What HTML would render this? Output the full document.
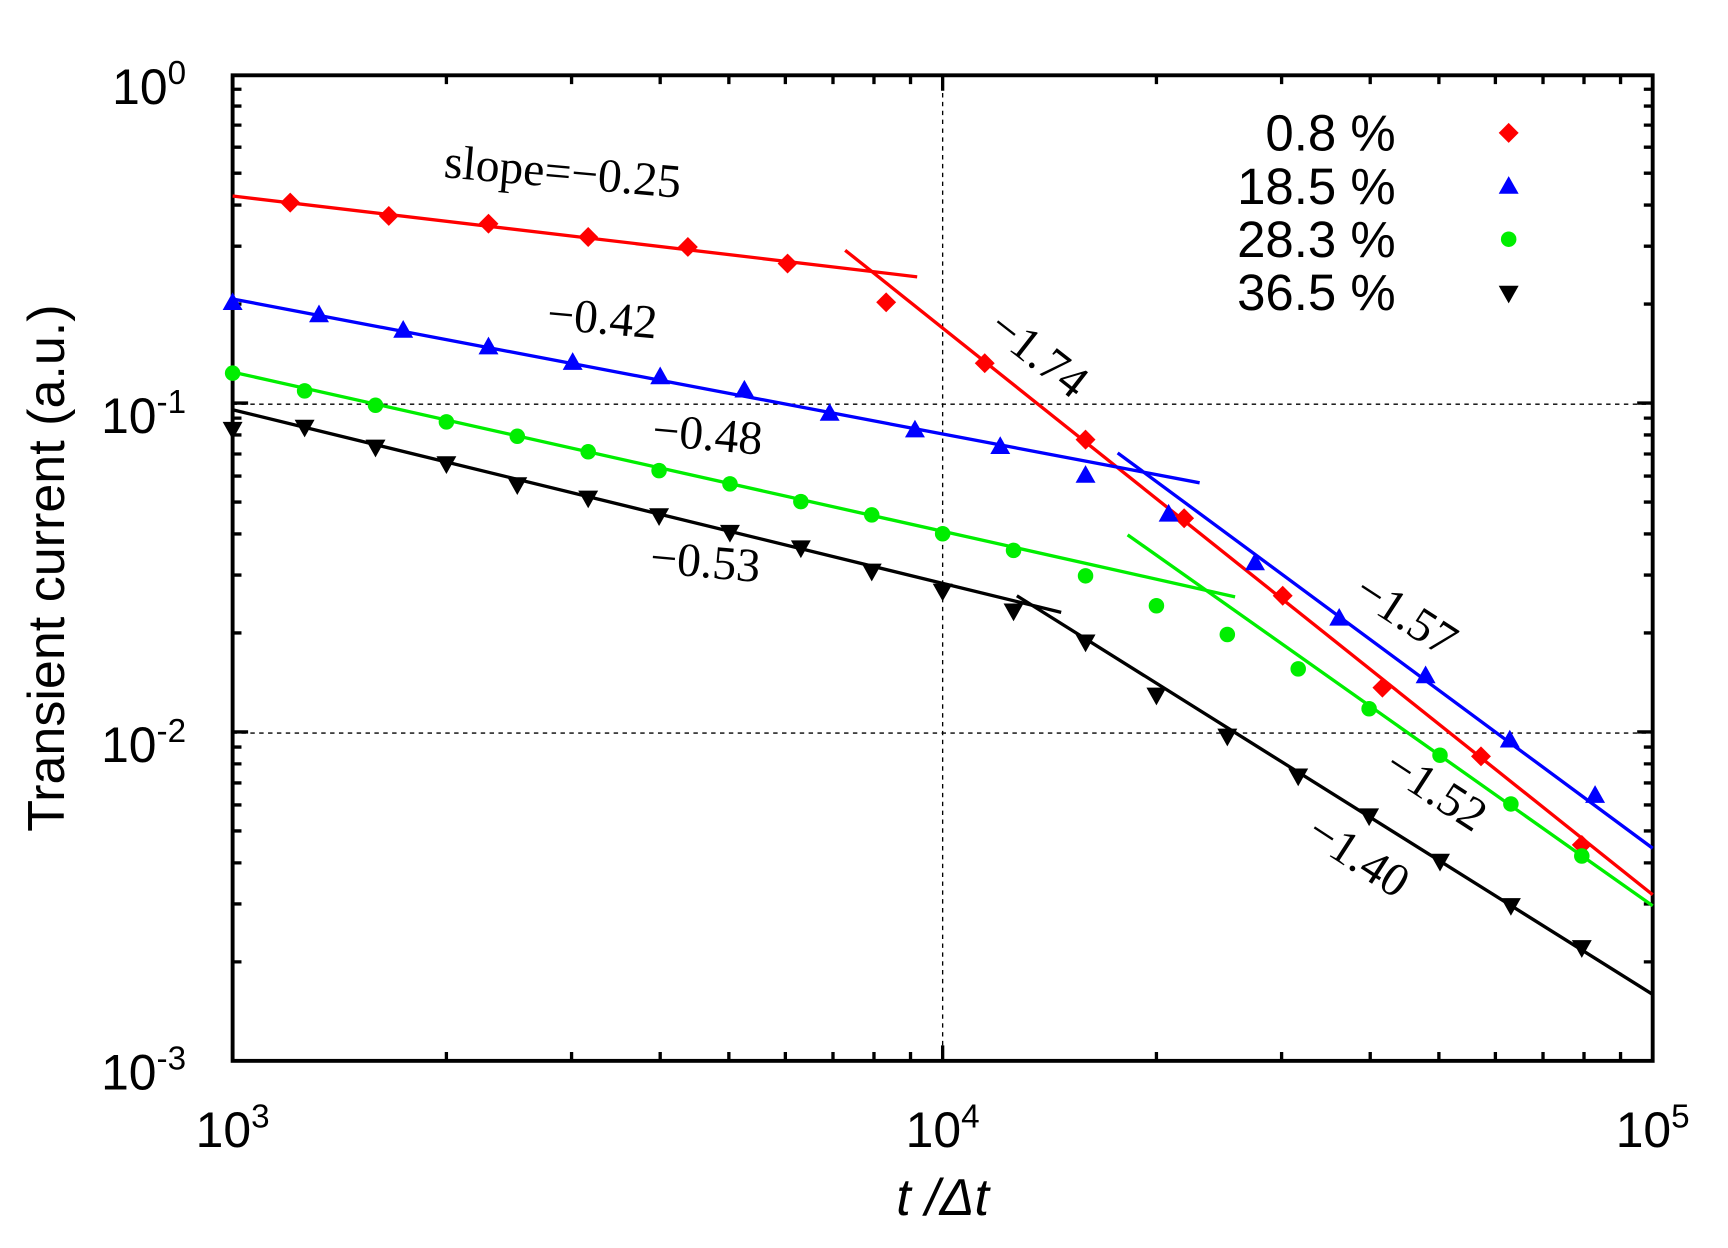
<!DOCTYPE html>
<html><head><meta charset="utf-8"><style>html,body{margin:0;padding:0;background:#fff}svg{display:block}</style></head>
<body>
<svg id="s" width="1728" height="1248" viewBox="0 0 1560 1127" preserveAspectRatio="none" xmlns="http://www.w3.org/2000/svg">
<rect width="1560" height="1127" fill="#fff"/>
<g stroke="#000" stroke-width="1.2" stroke-dasharray="4,4">
<line x1="851" y1="68" x2="851" y2="958"/>
<line x1="210" y1="365" x2="1492" y2="365"/>
<line x1="210" y1="662" x2="1492" y2="662"/>
</g>
<path id="ticks" stroke="#000" stroke-width="3" fill="none"/>
<rect x="210" y="68" width="1282" height="890" fill="none" stroke="#000" stroke-width="3.5"/>
<g font-family="Liberation Sans, sans-serif" font-size="45" fill="#000">
<text x="168" y="94" text-anchor="end">10<tspan dy="-18" font-size="30">0</tspan></text>
<text x="168" y="391" text-anchor="end">10<tspan dy="-18" font-size="30">-1</tspan></text>
<text x="168" y="688" text-anchor="end">10<tspan dy="-18" font-size="30">-2</tspan></text>
<text x="168" y="984" text-anchor="end">10<tspan dy="-18" font-size="30">-3</tspan></text>
<text x="210" y="1036" text-anchor="middle">10<tspan dy="-18" font-size="30">3</tspan></text>
<text x="851" y="1036" text-anchor="middle">10<tspan dy="-18" font-size="30">4</tspan></text>
<text x="1492" y="1036" text-anchor="middle">10<tspan dy="-18" font-size="30">5</tspan></text>
<text transform="translate(58,513) rotate(-90)" text-anchor="middle" font-size="47">Transient current (a.u.)</text>
<text x="851" y="1097" text-anchor="middle" font-style="italic" font-size="47">t /Δt</text>
<g font-size="46" text-anchor="end">
<text x="1260" y="136">0.8 %</text>
<text x="1260" y="184">18.5 %</text>
<text x="1260" y="232">28.3 %</text>
<text x="1260" y="280">36.5 %</text>
</g>
</g>
<g font-family="Liberation Serif, serif" font-size="43" fill="#000">
<text transform="translate(400,160) rotate(5)">slope=−0.25</text>
<text transform="translate(493,297) rotate(5)">−0.42</text>
<text transform="translate(588,402) rotate(5)">−0.48</text>
<text transform="translate(586,517) rotate(5)">−0.53</text>
<text transform="translate(890,300) rotate(38)">−1.74</text>
<text transform="translate(1220,540) rotate(33)">−1.57</text>
<text transform="translate(1247,698) rotate(33)">−1.52</text>
<text transform="translate(1177,758) rotate(33)">−1.40</text>
</g>
<g stroke-width="3" fill="none">
<line x1="210" y1="177" x2="828" y2="250" stroke="#f00"/>
<line x1="763" y1="226" x2="1492" y2="808" stroke="#f00"/>
<line x1="210" y1="270" x2="1083" y2="436" stroke="#00f"/>
<line x1="1009" y1="409" x2="1492" y2="766" stroke="#00f"/>
<line x1="210" y1="336" x2="1115" y2="539" stroke="#0e0"/>
<line x1="1018" y1="483" x2="1492" y2="818" stroke="#0e0"/>
<line x1="210" y1="370" x2="958" y2="553" stroke="#000"/>
<line x1="918" y1="538" x2="1492" y2="898" stroke="#000"/>
</g>
<g id="pts"></g>
<script>
(function(){
var d="";var X=[0,193,306,386,448,499,542,579,612];var Y=[0,89.4,141.7,178.8,207.6,231.1,251.0,268.2,283.4];
for(var k=0;k<2;k++){var b=210+641*k;for(var i=0;i<9;i++){var x=b+X[i];var L=i==0?14:8;if(x>1492)continue;d+="M"+x+" 958v-"+L+"M"+x+" 68v"+L;}}
d+="M1492 958v-14M1492 68v14";
for(var k=0;k<3;k++){var b=958-297*k;for(var i=0;i<9;i++){var y=b-Y[i];var L=i==0?14:8;d+="M210 "+y+"h"+L+"M1492 "+y+"h-"+L;}}
d+="M210 68h14M1492 68h-14";
document.getElementById("ticks").setAttribute("d",d);
var ns="http://www.w3.org/2000/svg",g=document.getElementById("pts");
function add(tag,attrs){var e=document.createElementNS(ns,tag);for(var a in attrs)e.setAttribute(a,attrs[a]);g.appendChild(e);}
function dia(x,y,c){add("polygon",{points:(x)+","+(y-9)+" "+(x+9)+","+y+" "+x+","+(y+9)+" "+(x-9)+","+y,fill:c});}
function up(x,y,c){add("polygon",{points:x+","+(y-9)+" "+(x+9)+","+(y+7)+" "+(x-9)+","+(y+7),fill:c});}
function dn(x,y,c){add("polygon",{points:x+","+(y+9)+" "+(x+9)+","+(y-7)+" "+(x-9)+","+(y-7),fill:c});}
function ci(x,y,c){add("circle",{cx:x,cy:y,r:7,fill:c});}
[[262,183],[351,195],[441,202],[531,214],[621,223],[711,238],[800,273],[889,328],[980,397],[1069,468],[1158,538],[1248,621],[1337,683],[1428,763],[1362,120]].forEach(function(p){dia(p[0],p[1],"#f00")});
[[210,273],[288,284],[364,298],[441,313],[517,327],[596,340],[672,352],[749,373],[826,388],[903,403],[980,429],[1055,464],[1133,508],[1209,558],[1287,610],[1363,668],[1440,718],[1362,168]].forEach(function(p){up(p[0],p[1],"#00f")});
[[210,337],[275,353],[339,366],[403,381],[467,394],[531,408],[595,425],[659,437],[723,453],[787,465],[851,482],[915,497],[980,520],[1044,547],[1108,573],[1172,604],[1236,640],[1300,682],[1364,726],[1428,773],[1362,216]].forEach(function(p){ci(p[0],p[1],"#0e0")});
[[210,388],[275,386],[339,404],[403,419],[467,438],[531,450],[595,466],[659,481],[723,495],[787,516],[851,534],[915,552],[980,580],[1044,628],[1108,665],[1172,701],[1236,737],[1300,778],[1364,818],[1428,856],[1362,265]].forEach(function(p){dn(p[0],p[1],"#000")});
})();
</script>
</svg>
</body></html>
